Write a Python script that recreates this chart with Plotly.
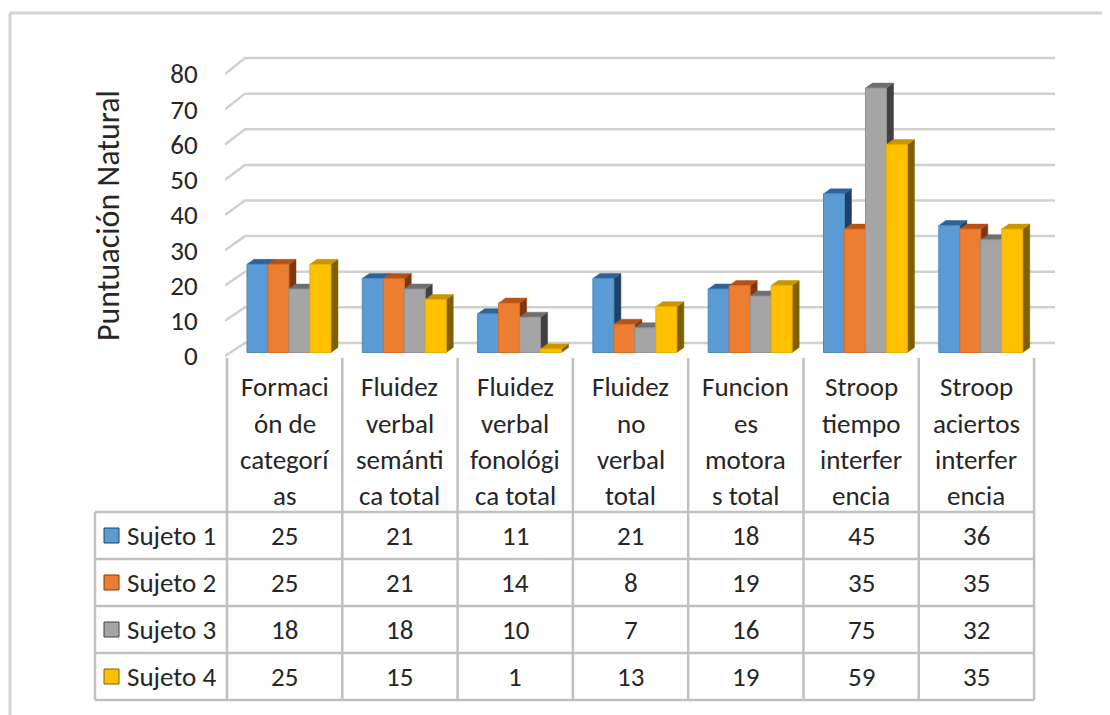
import plotly.graph_objects as go

# ---------------- data ----------------
categories = ["Formación de categorías", "Fluidez verbal semántica total",
              "Fluidez verbal fonológica total", "Fluidez no verbal total",
              "Funciones motoras total", "Stroop tiempo interferencia",
              "Stroop aciertos interferencia"]
category_lines = [["Formaci", "ón de", "categorí", "as"],
                  ["Fluidez", "verbal", "semánti", "ca total"],
                  ["Fluidez", "verbal", "fonológi", "ca total"],
                  ["Fluidez", "no", "verbal", "total"],
                  ["Funcion", "es", "motora", "s total"],
                  ["Stroop", "tiempo", "interfer", "encia"],
                  ["Stroop", "aciertos", "interfer", "encia"]]
series_names = ["Sujeto 1", "Sujeto 2", "Sujeto 3", "Sujeto 4"]
sujeto1 = [25, 21, 11, 21, 18, 45, 36]
sujeto2 = [25, 21, 14, 8, 19, 35, 35]
sujeto3 = [18, 18, 10, 7, 16, 75, 32]
sujeto4 = [25, 15, 1, 13, 19, 59, 35]
series_values = [sujeto1, sujeto2, sujeto3, sujeto4]
y_ticks = [0, 10, 20, 30, 40, 50, 60, 70, 80]
y_title = "Puntuación Natural"

# ---------------- styles ----------------
front_cols = ["#5B9BD5", "#ED7D31", "#A5A5A5", "#FFC000"]
edge_cols = ["#4A88C2", "#D96C22", "#929292", "#E8AE00"]
top_cols = ["#2F6396", "#B2531A", "#6F6F6F", "#C99500"]
side_cols = ["#1E416A", "#7F380E", "#414141", "#7F6000"]
FONT = "Carlito, Calibri, Lato, sans-serif"
FS = 27
FS_TITLE = 32
TXT = "#262626"
GRID = "#d0d0d0"
TABLE = "#c0c0c0"

# layout geometry (pixels); page body adds an 8px offset
OFF = 8
W, H = 1110 - OFF, 715 - OFF
ML, MR, MT, MB = 225 - OFF, 54, 50 - OFF, 355
X0, X1 = -0.5173, 6.690
Y0, Y1 = -1.135, 86.81

bar_w = 0.182
group_off = -0.3266
dx, dy = 0.061, 1.42          # 3D depth offsets (data units)
base = 1.0                    # front-face depth offset
back_dx_left, back_dx_right = -0.344, 6.681


def back_v(v):
    return 3.69 + 1.0106 * v


def xp(u):
    return (u - X0) / (X1 - X0)


def pxx(px):  # reference-image pixel -> paper x
    return (px - OFF - ML) / (W - ML - MR)


def yp(px):   # reference-image pixel -> paper y
    return (H - MB - (px - OFF)) / (H - MT - MB)


fig = go.Figure()

# gridlines (back wall + left slant)
gx, gy = [], []
for t in y_ticks:
    gx += [X0, back_dx_left, back_dx_right, None]
    gy += [t, back_v(t), back_v(t), None]
fig.add_trace(go.Scatter(x=gx, y=gy, mode="lines", line=dict(color=GRID, width=2.5),
                         hoverinfo="skip", showlegend=False, zorder=-1))

# 3D bars
n = len(categories)
for k, vals in enumerate(series_values):
    sx, sy, tx, ty = [], [], [], []
    for i, v in enumerate(vals):
        x0 = i + group_off + k * bar_w
        x1 = x0 + bar_w
        top = base + v
        sx += [x1, x1, x1 + dx, x1 + dx, x1, None]
        sy += [base, top, top + dy, base + dy, base, None]
        tx += [x0, x1, x1 + dx, x0 + dx, x0, None]
        ty += [top, top, top + dy, top + dy, top, None]
    fig.add_trace(go.Scatter(x=sx, y=sy, mode="lines", fill="toself",
                             fillcolor=side_cols[k], line=dict(width=0.5, color=side_cols[k]),
                             hoverinfo="skip", showlegend=False, zorder=3 * k))
    fig.add_trace(go.Scatter(x=tx, y=ty, mode="lines", fill="toself",
                             fillcolor=top_cols[k], line=dict(width=0.5, color=top_cols[k]),
                             hoverinfo="skip", showlegend=False, zorder=3 * k + 1))
    fig.add_trace(go.Bar(x=list(range(n)), y=vals, base=base, width=bar_w,
                         offset=group_off + k * bar_w, name=series_names[k],
                         marker=dict(color=front_cols[k], line=dict(color=edge_cols[k], width=1)),
                         hoverinfo="skip", showlegend=False, zorder=3 * k + 2))

fig.update_layout(
    width=W, height=H,
    margin=dict(l=ML, r=MR, t=MT, b=MB),
    paper_bgcolor="white", plot_bgcolor="rgba(0,0,0,0)",
    barmode="overlay",
    font=dict(family=FONT, size=FS, color=TXT),
    xaxis=dict(range=[X0, X1], showgrid=False, zeroline=False, showline=False,
               showticklabels=False, ticks=""),
    yaxis=dict(range=[Y0, Y1], showgrid=False, zeroline=False, showline=False,
               tickvals=y_ticks, ticktext=[str(t) for t in y_ticks],
               ticks="outside", ticklen=21, tickcolor="rgba(0,0,0,0)",
               tickfont=dict(family=FONT, size=FS, color=TXT)),
)

shapes = []
annotations = []

# outer chart border (top and left)
shapes.append(dict(type="line", xref="paper", yref="paper",
                   x0=pxx(10), x1=pxx(1120), y0=yp(13), y1=yp(13),
                   line=dict(color="#d3d3d3", width=3)))
shapes.append(dict(type="line", xref="paper", yref="paper",
                   x0=pxx(10), x1=pxx(10), y0=yp(13), y1=yp(725),
                   line=dict(color="#d3d3d3", width=3)))

# data table
row_lines = [512, 559, 606, 653, 700]
legend_left = pxx(95)
for c in range(n + 1):
    shapes.append(dict(type="line", xref="paper", yref="paper",
                       x0=xp(c - 0.5), x1=xp(c - 0.5), y0=yp(358), y1=yp(row_lines[-1]),
                       line=dict(color=TABLE, width=2.5)))
shapes.append(dict(type="line", xref="paper", yref="paper",
                   x0=legend_left, x1=legend_left, y0=yp(row_lines[0]), y1=yp(row_lines[-1]),
                   line=dict(color=TABLE, width=2.5)))
for r in row_lines:
    shapes.append(dict(type="line", xref="paper", yref="paper",
                       x0=legend_left, x1=xp(n - 0.5), y0=yp(r), y1=yp(r),
                       line=dict(color=TABLE, width=2.5)))

# category header text
line_centers = [386, 423, 459, 495]
for i, lines in enumerate(category_lines):
    for j, txt in enumerate(lines):
        annotations.append(dict(x=i, xref="x", y=yp(line_centers[j]), yref="paper",
                                text=txt, showarrow=False, xanchor="center", yanchor="middle",
                                font=dict(family=FONT, size=FS, color=TXT)))

# table rows: legend keys and values
for k, vals in enumerate(series_values):
    cy = (row_lines[k] + row_lines[k + 1]) / 2
    shapes.append(dict(type="rect", xref="paper", yref="paper",
                       x0=pxx(104), x1=pxx(119), y0=yp(cy + 7.5), y1=yp(cy - 7.5),
                       fillcolor=front_cols[k], line=dict(color=side_cols[k], width=1)))
    annotations.append(dict(x=pxx(125), xref="paper", y=yp(cy), yref="paper",
                            text=series_names[k], showarrow=False, xanchor="left", yanchor="middle",
                            font=dict(family=FONT, size=FS, color=TXT)))
    for i, v in enumerate(vals):
        annotations.append(dict(x=i, xref="x", y=yp(cy), yref="paper", text=str(v),
                                showarrow=False, xanchor="center", yanchor="middle",
                                font=dict(family=FONT, size=FS, color=TXT)))

# y axis title
annotations.append(dict(x=pxx(109), xref="paper", y=yp(216), yref="paper",
                        text=y_title, textangle=-90, showarrow=False,
                        xanchor="center", yanchor="middle",
                        font=dict(family=FONT, size=FS_TITLE, color=TXT)))

fig.update_layout(shapes=shapes, annotations=annotations)
fig.write_html("out.html")
